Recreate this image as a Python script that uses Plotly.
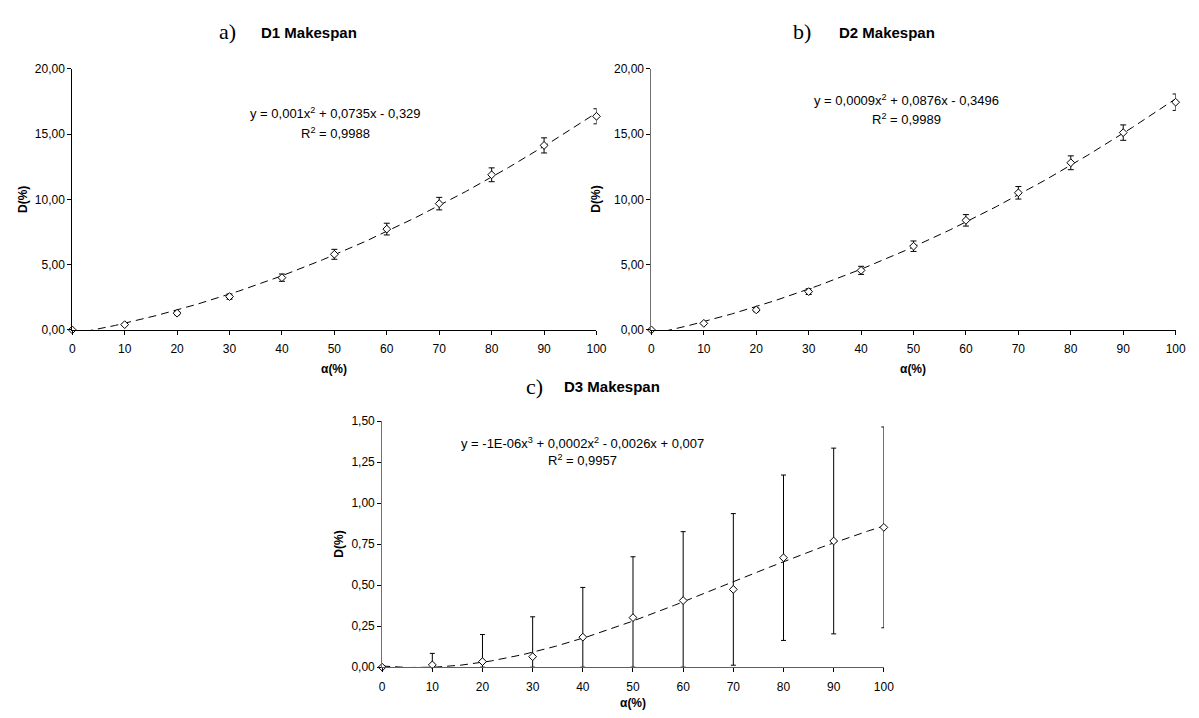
import numpy as np
import plotly.graph_objects as go

W, H = 1199, 718

alpha = [0, 10, 20, 30, 40, 50, 60, 70, 80, 90, 100]
d1_mean = [0, 0.40, 1.28, 2.55, 4.00, 5.79, 7.72, 9.67, 11.88, 14.13, 16.36]
d1_err = [0, 0.06, 0.12, 0.20, 0.28, 0.38, 0.45, 0.48, 0.53, 0.58, 0.58]
d2_mean = [0, 0.50, 1.53, 2.93, 4.56, 6.41, 8.39, 10.50, 12.80, 15.11, 17.44]
d2_err = [0, 0.07, 0.14, 0.22, 0.31, 0.40, 0.44, 0.48, 0.53, 0.59, 0.63]
d3_mean = [0, 0.014, 0.034, 0.064, 0.183, 0.302, 0.406, 0.474, 0.667, 0.769, 0.852]
d3_err = [0, 0.070, 0.165, 0.243, 0.303, 0.371, 0.420, 0.462, 0.504, 0.566, 0.612]

titles = ["D1 Makespan", "D2 Makespan", "D3 Makespan"]
letters = ["a)", "b)", "c)"]
equations = [
    "y = 0,001x<sup>2</sup> + 0,0735x - 0,329",
    "y = 0,0009x<sup>2</sup> + 0,0876x - 0,3496",
    "y = -1E-06x<sup>3</sup> + 0,0002x<sup>2</sup> - 0,0026x + 0,007",
]
r2_texts = ["R<sup>2</sup> = 0,9988", "R<sup>2</sup> = 0,9989", "R<sup>2</sup> = 0,9957"]

FONT = "Liberation Sans, Arial, sans-serif"
SERIF = "Liberation Serif, Times New Roman, serif"


def px(x):
    return x / W


def py(y):
    return 1 - y / H


fig = go.Figure()

series = [
    (d1_mean, d1_err, 2, "x", "y", 3),
    (d2_mean, d2_err, 2, "x2", "y2", 3),
    (d3_mean, d3_err, 3, "x3", "y3", 2.5),
]

xfit = np.linspace(0, 100, 401)
for mean, err, deg, xa, ya, capw in series:
    m = np.array(mean)
    e = np.array(err)
    coef = np.polyfit(alpha, m, deg)
    fig.add_trace(go.Scatter(
        x=xfit, y=np.polyval(coef, xfit), mode="lines", xaxis=xa, yaxis=ya,
        line=dict(color="black", width=1, dash="8px,5px"), hoverinfo="skip",
        showlegend=False))
    fig.add_trace(go.Scatter(
        x=alpha, y=m, mode="markers", xaxis=xa, yaxis=ya,
        marker=dict(symbol="diamond", size=6, color="white",
                    line=dict(color="black", width=1)),
        error_y=dict(type="data", array=e, arrayminus=np.minimum(e, m),
                     color="black", thickness=1, width=capw),
        cliponaxis=False, showlegend=False))

axis_common = dict(
    showgrid=False, zeroline=False, showline=True, linewidth=1,
    ticks="outside", ticklen=4, tickwidth=1, tickcolor="black",
    tickfont=dict(family=FONT, size=12, color="black"),
)

xdoms = [(70, 600), (655.5, 1185.5), (383.3, 890.5)]
ydoms = [(63, 329.3), (63, 329.3), (422.3, 673.3)]
yranges = [[0, 20], [0, 20], [0, 1.5]]
ydticks = [5, 5, 0.25]
linecols = [("black", "black"), ("black", "#707070"), ("#606060", "#707070")]

layout = dict(
    width=W, height=H, margin=dict(l=0, r=0, t=0, b=0),
    paper_bgcolor="white", plot_bgcolor="white", separators=",.",
    showlegend=False,
)
for i in range(3):
    sfx = "" if i == 0 else str(i + 1)
    x0, x1 = xdoms[i]
    y0, y1 = ydoms[i]
    layout["xaxis" + sfx] = dict(
        axis_common, domain=[px(x0), px(x1)], range=[0, 100], dtick=10,
        anchor="y" + sfx, linecolor=linecols[i][0], ticklabelstandoff=4)
    layout["yaxis" + sfx] = dict(
        axis_common, domain=[py(y1), py(y0)], range=yranges[i],
        dtick=ydticks[i], tickformat=".2f", anchor="x" + sfx,
        linecolor=linecols[i][1])

fig.update_layout(**layout)

ann = []


def add(text, x, y, size=12, bold=False, family=FONT, angle=0):
    ann.append(dict(
        text=("<b>%s</b>" % text) if bold else text, x=px(x), y=py(y),
        xref="paper", yref="paper", showarrow=False, xanchor="center",
        yanchor="middle", textangle=angle,
        font=dict(family=family, size=size, color="black")))


letter_pos = [(227, 25), (808, 25), (537.5, 387)]
title_pos = [(309.5, 26), (894, 26), (616, 387)]
eq_pos = [(336, 108), (913, 95), (586, 445)]
r2_pos = [(336, 128), (913, 114), (586, 462)]
xt_pos = [(335, 369), (920, 369), (637, 710)]
yt_pos = [(20, 196), (600, 196), (340, 548)]

for i in range(3):
    add(letters[i], *letter_pos[i], size=22, family=SERIF)
    add(titles[i], *title_pos[i], size=15, bold=True)
    add(equations[i], *eq_pos[i], size=13)
    add(r2_texts[i], *r2_pos[i], size=13)
    add("α(%)", *xt_pos[i], size=12, bold=True)
    add("D(%)", *yt_pos[i], size=12, bold=True, angle=-90)

fig.update_layout(annotations=ann)
fig.write_html("out.html")
